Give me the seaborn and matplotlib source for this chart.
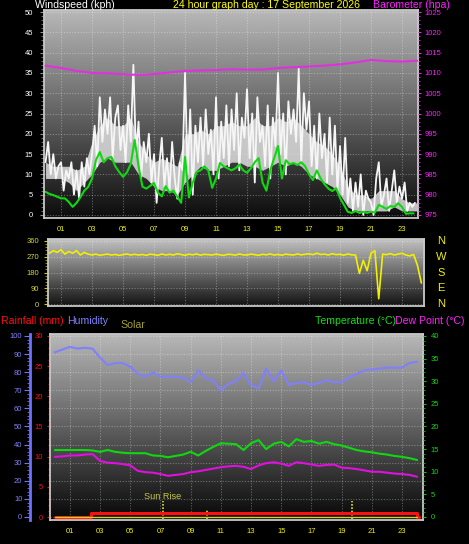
import numpy as np
import matplotlib
matplotlib.use("Agg")
import matplotlib.pyplot as plt
import matplotlib.transforms as mtransforms
from matplotlib.ticker import MultipleLocator, FixedLocator
import seaborn as sns

sns.set_style("ticks")
plt.rcParams['font.family'] = ['Liberation Sans', 'DejaVu Sans']

# ---- data (hour of day 0..24) ----
# wind gust, kph, every 10 minutes
gust_kph = [
    13, 18, 10, 15, 9, 12,
    13, 6, 11, 9, 13, 5,
    11, 4, 13, 7, 14, 10,
    15, 22, 12, 29, 18, 26,
    20, 29, 14, 24, 27, 16,
    22, 13, 27, 18, 37, 15,
    23, 9, 18, 13, 20, 8,
    15, 3, 12, 19, 7, 14,
    6, 18, 9, 4, 13, 11,
    35, 10, 26, 5, 22, 13,
    24, 12, 26, 15, 21, 10,
    29, 9, 23, 14, 27, 12,
    26, 16, 30, 11, 24, 19,
    31, 14, 25, 8, 29, 18,
    22, 12, 27, 9, 24, 17,
    35, 15, 25, 10, 28, 20,
    26, 18, 36, 13, 30, 21,
    28, 12, 22, 9, 25, 14,
    20, 8, 24, 10, 22, 6,
    17, 5, 19, 3, 9, 1,
    8, 2, 10, 0, 6, 4,
    3, 0, 9, 13, 2, 5,
    9, 1, 6, 11, 3, 7,
    4, 8, 1, 3, 2, 3,
]
# solid body of the gust trace (lull / typical), kph, every 30 minutes
gust_body_low = [9, 9, 9, 8, 6, 8, 10, 13, 14, 13, 13, 13, 10, 9, 7, 6, 6, 5,
                 8, 10, 12, 11, 11, 12, 13, 13, 12, 12, 11, 12, 13, 12, 13, 12,
                 10, 9, 8, 7, 5, 2, 1, 1, 1, 1, 1, 2, 1, 1, 1]
gust_body_high = [13, 12, 12, 12, 11, 12, 18, 22, 24, 22, 22, 24, 18, 15, 13,
                  14, 13, 12, 20, 20, 21, 20, 22, 22, 23, 22, 22, 24, 22, 22,
                  24, 23, 24, 22, 20, 18, 17, 15, 12, 7, 5, 5, 4, 6, 6, 6, 4,
                  3, 3]
# average wind, kph, every 15 minutes
wind_avg_kph = [
    5.7, 5.2, 4.9, 4.5,
    4.1, 4.1, 3.2, 2.0,
    3.0, 4.4, 6.0, 6.9,
    9.0, 13.5, 15.5, 13.0,
    14.0, 14.3, 12.0, 10.6,
    9.4, 10.5, 12.6, 18.5,
    12.0, 7.0, 6.5, 7.2,
    7.9, 5.5, 4.6, 7.1,
    5.5, 6.0, 4.5, 3.0,
    14.3, 4.3, 8.0, 10.6,
    11.0, 12.0, 11.0, 6.7,
    9.0, 12.8, 12.0, 11.5,
    11.0, 11.5, 12.4, 11.0,
    10.4, 11.5, 13.0, 14.0,
    8.0, 6.0, 11.0, 14.0,
    17.0, 9.0, 13.5, 12.5,
    12.8, 12.3, 13.0, 12.0,
    10.0, 8.6, 11.0, 9.0,
    7.6, 6.5, 5.9, 6.6,
    4.2, 2.5, 0.8, 0.5,
    1.0, 0.5, 0.8, 0.5,
    0.8, 0.6, 2.5, 2.0,
    1.5, 2.2, 2.0, 2.9,
    2.0, 0.3, 0.4, 0.4,
]
# barometer, hPa, hourly
pressure_hpa = [1011.8, 1011.2, 1010.5, 1010.0, 1009.9, 1009.7, 1009.5, 1009.7,
                1010.1, 1010.5, 1010.6, 1010.7, 1010.9, 1010.8, 1010.8, 1011.2,
                1011.4, 1011.6, 1011.8, 1012.1, 1012.6, 1013.2, 1012.9, 1012.8,
                1013.0]
# wind direction, degrees, every 15 minutes up to 24:15
wind_dir_deg = [
    300, 290, 305, 295, 310, 285, 300, 290, 305, 280, 295, 285,
    280, 285, 278, 282, 285, 280, 283, 278, 282, 286, 280, 284,
    280, 283, 278, 285, 282, 278, 286, 280, 284, 280, 287, 283,
    278, 285, 281, 286, 279, 284, 282, 280, 285, 281, 278, 284,
    283, 279, 286, 281, 280, 285, 282, 278, 284, 281, 286, 280,
    283, 279, 285, 282, 280, 286, 281, 284, 287, 282, 290, 283,
    285, 280, 288, 282, 284, 279, 286, 281, 280, 175, 250, 190,
    290, 305, 30, 285, 282, 288, 280, 285, 290, 280, 275, 283,
    220, 120,
]
# humidity %, temperature and dew point degC, every 30 minutes
humidity_pct = [91, 92.5, 94, 93, 93.5, 93, 88, 84, 85, 85, 83, 79, 77.5, 80,
                77.5, 77.5, 77.5, 77, 74.5, 81, 76.5, 75.5, 70, 73.5, 75, 79.5,
                73, 71, 82, 75, 81, 73, 74, 74.5, 73, 74, 75.5, 74.5, 74.5, 77,
                79, 81, 81.5, 82, 82.5, 82.5, 82.5, 85, 85.8]
temperature_c = [14.8, 14.8, 14.8, 14.8, 14.8, 14.7, 14.4, 14.8, 14.4, 14.2,
                 14.1, 14.1, 14.1, 13.6, 13.5, 13.2, 13.5, 13.8, 14.4, 13.6,
                 14.6, 15.5, 16.3, 16.2, 16.1, 14.8, 16.3, 17.0, 15.0, 16.2,
                 16.6, 15.6, 17.2, 16.6, 16.8, 16.2, 16.6, 16.1, 15.8, 15.3,
                 14.8, 14.5, 14.3, 14.0, 13.8, 13.5, 13.3, 13.0, 12.6]
dewpoint_c = [13.3, 13.4, 13.6, 13.6, 13.8, 13.9, 12.4, 12.0, 11.9, 11.7, 11.4,
              10.2, 9.9, 9.8, 9.5, 9.1, 9.3, 9.5, 9.9, 10.1, 10.4, 10.7, 11.0,
              11.2, 11.3, 11.1, 10.6, 11.4, 11.9, 12.1, 11.8, 11.3, 12.1, 11.9,
              11.6, 11.3, 11.5, 11.6, 10.9, 10.8, 10.6, 10.3, 10.0, 10.0, 9.8,
              9.6, 9.5, 9.3, 8.9]
# rainfall (mm), step series
rain_hours = [0.0, 2.4, 23.98, 24.1]
rain_mm = [0.0, 0.7, 0.0, 0.0]
# solar (flat)
solar_hours = [0.0, 6.0, 12.0, 18.0, 24.0]
solar_wm2 = [0, 0, 0, 0, 0]
# sun events: hour and marker top (humidity units)
sun_event_hours = [7.15, 10.1, 19.7]
sun_event_tops = [9, 4.4, 9]

hour_ticks = [1, 3, 5, 7, 9, 11, 13, 15, 17, 19, 21, 23]
hour_labels = ["%02d" % h for h in hour_ticks]

gust_hours = np.arange(len(gust_kph)) / 6
avg_hours = np.arange(len(wind_avg_kph)) / 4
press_hours = np.arange(len(pressure_hpa))
dir_hours = np.arange(len(wind_dir_deg)) / 4
half_hours = np.arange(len(humidity_pct)) / 2

W, H = 469, 544
BORDER = '#c8c8c8'
GRID = dict(color='white', alpha=0.32, linestyle=(0, (1, 1.5)), linewidth=0.8)


def box(l, t, r, b):
    return [l / W, 1 - b / H, (r - l) / W, (b - t) / H]


def gradient_bg(ax, top, bottom):
    g = np.linspace(bottom, top, 256).reshape(-1, 1)
    ax.imshow(g, extent=(0, 1, 0, 1), transform=ax.transAxes, origin='lower',
              cmap='gray', vmin=0, vmax=1, aspect='auto', zorder=0)


def line(ax, x, y, color, lw, **kw):
    sns.lineplot(x=x, y=y, ax=ax, color=color, linewidth=lw,
                 estimator=None, sort=False, legend=False, **kw)


def style_spines(ax, color=BORDER):
    for s in ax.spines.values():
        s.set_color(color)
        s.set_linewidth(1.3)


fig = plt.figure(figsize=(W / 100, H / 100), dpi=100, facecolor='black')

# ---------------- top panel: wind + barometer ----------------
ax1 = fig.add_axes(box(44, 10, 418, 218))
gradient_bg(ax1, 0.72, 0.05)
ax1.fill_between(half_hours, gust_body_low, gust_body_high, color='#e4e4e4',
                 alpha=0.82, linewidth=0, zorder=1.5)
line(ax1, gust_hours, gust_kph, '#f6f6f6', 1.3)
line(ax1, avg_hours, wind_avg_kph, '#10d810', 1.5)
ax1.set_xlim(-0.1, 24.03)
ax1.set_ylim(-0.74, 50.5)
ax1.yaxis.set_major_locator(MultipleLocator(5))
ax1.yaxis.set_minor_locator(MultipleLocator(1))
ax1.set_xticks(hour_ticks, hour_labels)
ax1.grid(True, which='major', **GRID)
ax1.tick_params(axis='y', which='major', colors='#909090', labelcolor='white',
                length=3, pad=5, labelsize=5.5)
ax1.tick_params(axis='y', which='minor', colors='#808080', length=2)
ax1.tick_params(axis='x', length=0, pad=5.5, labelcolor='#f0f000', labelsize=5.5)
ax1.set_xlabel('')
ax1.set_ylabel('')
style_spines(ax1)

ax1b = ax1.twinx()
line(ax1b, press_hours, pressure_hpa, '#e030e0', 1.5)
ax1b.set_ylim(974.26, 1025.5)
ax1b.yaxis.set_major_locator(MultipleLocator(5))
ax1b.yaxis.set_minor_locator(MultipleLocator(1))
ax1b.tick_params(axis='y', which='major', colors='#e030e0', labelcolor='#ff20ff',
                 length=2.5, pad=2, labelsize=5.5)
ax1b.tick_params(axis='y', which='minor', colors='#e030e0', length=1.5)
ax1b.set_ylabel('')
for s in ax1b.spines.values():
    s.set_visible(False)

fig.text(35 / W, 1 - 5.5 / H, 'Windspeed (kph)', color='white', fontsize=7.6,
         va='center', ha='left')
fig.text(173 / W, 1 - 5.5 / H, '24 hour graph day : 17 September 2026',
         color='#ffff00', fontsize=7.6, va='center', ha='left')
fig.text(373 / W, 1 - 5.5 / H, 'Barometer (hpa)', color='#ff20ff', fontsize=7.6,
         va='center', ha='left')

# ---------------- middle panel: wind direction ----------------
ax2 = fig.add_axes(box(48, 239, 424, 306))
gradient_bg(ax2, 0.76, 0.07)
line(ax2, dir_hours, wind_dir_deg, '#f0f000', 1.2)
ax2.set_xlim(0.16, 24.42)
ax2.set_ylim(-11.4, 371.4)
ax2.yaxis.set_major_locator(FixedLocator([0, 90, 180, 270, 360]))
ax2.yaxis.set_minor_locator(MultipleLocator(18))
ax2.set_xticks(hour_ticks, [])
ax2.grid(True, which='major', **GRID)
ax2.tick_params(axis='y', which='major', colors='#c8c830', labelcolor='#d4d43c',
                length=3, pad=3.5, labelsize=5.5)
ax2.tick_params(axis='y', which='minor', colors='#a0a020', length=2)
ax2.tick_params(axis='x', length=0)
ax2.set_xlabel('')
ax2.set_ylabel('')
style_spines(ax2)

trans = mtransforms.blended_transform_factory(fig.transFigure, ax2.transData)
for deg, lab in zip([360, 270, 180, 90, 0], ['N', 'W', 'S', 'E', 'N']):
    ax2.text(441 / W, deg, lab, transform=trans, color='#f0f000', fontsize=8,
             ha='center', va='center', clip_on=False)

# ---------------- bottom panel: humidity, rain, temperature ----------------
ax3 = fig.add_axes(box(50, 334, 423, 520))
gradient_bg(ax3, 0.72, 0.03)
line(ax3, half_hours, humidity_pct, '#8080ff', 1.5)
ax3.vlines(sun_event_hours, -1.2, sun_event_tops, colors='#e0e020',
           linestyles=(0, (1, 1)), linewidth=1.2, zorder=3)
ax3.text(sun_event_hours[0], 11.5, 'Sun Rise', color='#c8c83c', fontsize=6.6,
         ha='center', va='center')
ax3.set_xlim(-0.32, 24.39)
ax3.set_ylim(-1.66, 101.1)
ax3.yaxis.set_major_locator(MultipleLocator(10))
ax3.yaxis.set_minor_locator(MultipleLocator(2))
ax3.set_xticks(hour_ticks, hour_labels)
ax3.grid(True, which='major', **GRID)
ax3.tick_params(axis='y', which='major', colors='#7070ff', labelcolor='#8080ff',
                length=4, pad=1.5, labelsize=5.5)
ax3.tick_params(axis='y', which='minor', colors='#7070ff', length=2.5)
ax3.tick_params(axis='x', length=0, pad=5.5, labelcolor='#f0f000', labelsize=5.5)
ax3.set_xlabel('')
ax3.set_ylabel('')
style_spines(ax3)
ax3.spines['left'].set_position(('outward', 14.4))
ax3.spines['left'].set_color('#7070ff')
ax3.spines['left'].set_linewidth(2)

ax3t = ax3.twinx()
line(ax3t, half_hours, temperature_c, '#10d810', 1.5)
line(ax3t, half_hours, dewpoint_c, '#e010e0', 1.5)
ax3t.set_ylim(-0.663, 40.44)
ax3t.yaxis.set_major_locator(MultipleLocator(5))
ax3t.yaxis.set_minor_locator(MultipleLocator(1))
ax3t.tick_params(axis='y', which='major', colors='#10c010', labelcolor='#10d810',
                 length=2.5, pad=3, labelsize=5.5)
ax3t.tick_params(axis='y', which='minor', colors='#10c010', length=1.5)
ax3t.set_ylabel('')
for s in ax3t.spines.values():
    s.set_visible(False)

ax3r = ax3.twinx()
line(ax3r, rain_hours, rain_mm, '#ff1010', 2.2, drawstyle='steps-post')
line(ax3r, solar_hours, solar_wm2, '#d0d020', 1.0)
ax3r.set_ylim(-0.497, 30.33)
ax3r.yaxis.tick_left()
ax3r.yaxis.set_major_locator(MultipleLocator(5))
ax3r.yaxis.set_minor_locator(MultipleLocator(1))
ax3r.tick_params(axis='y', which='major', colors='#ff1010', labelcolor='#ff1010',
                 length=2.5, pad=2.5, labelsize=5.5)
ax3r.tick_params(axis='y', which='minor', colors='#d01010', length=1.5)
ax3r.set_ylabel('')
for s in ax3r.spines.values():
    s.set_visible(False)
ax3r.spines['left'].set_visible(True)
ax3r.spines['left'].set_color(BORDER)
ax3r.spines['left'].set_linewidth(1.3)

fig.text(1 / W, 1 - 320.5 / H, 'Rainfall (mm)', color='#ff1010', fontsize=7.6,
         va='center', ha='left')
fig.text(67 / W, 1 - 320.5 / H, 'Humidity', color='#8080ff', fontsize=7.6,
         va='center', ha='left')
fig.text(120 / W, 1 - 325.5 / H, 'Solar', color='#a0a028', fontsize=7.6,
         va='center', ha='left')
fig.text(315 / W, 1 - 320.5 / H, 'Temperature (\u00b0C)', color='#10e010',
         fontsize=7.6, va='center', ha='left')
fig.text(395 / W, 1 - 320.5 / H, 'Dew Point (\u00b0C)', color='#ff20ff',
         fontsize=7.6, va='center', ha='left')

fig.savefig('out.png', dpi=100, facecolor='black')
